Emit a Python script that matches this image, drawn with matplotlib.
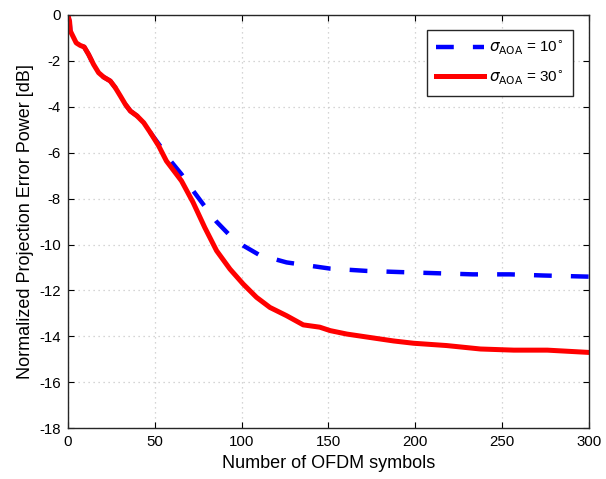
import numpy as np
import matplotlib as mpl
mpl.use('Agg')
import matplotlib.pyplot as plt

plt.rcParams['font.family'] = ['Liberation Sans', 'DejaVu Sans']
plt.rcParams['axes.unicode_minus'] = False

# values
x30 = [0, 1, 1.4, 2.9, 4.8, 7.1, 9.4, 11.9, 14.8, 17.7, 20.6, 24.4, 27.3,
       30.2, 33.1, 36, 39.8, 43.7, 47.5, 52.3, 56.7, 65.4, 72.1, 78.8, 85.6,
       93.3, 100.9, 108.6, 116.3, 125.9, 135.5, 145, 151, 160.6, 174, 187.5,
       199, 218, 237.5, 256.7, 276, 300]
y30 = [0, -0.3, -0.7, -0.93, -1.22, -1.33, -1.4, -1.72, -2.16, -2.52, -2.71,
       -2.88, -3.17, -3.53, -3.9, -4.19, -4.4, -4.7, -5.13, -5.71, -6.36,
       -7.23, -8.17, -9.26, -10.27, -11.07, -11.72, -12.3, -12.74, -13.1,
       -13.5, -13.6, -13.75, -13.9, -14.05, -14.2, -14.3, -14.4, -14.55,
       -14.6, -14.6, -14.7]
x10 = [0, 1, 1.4, 2.9, 4.8, 7.1, 9.4, 11.9, 14.8, 17.7, 20.6, 24.4, 27.3,
       30.2, 33.1, 36, 39.8, 43.7, 47.5, 53.8, 59, 65.4, 72, 78.4, 85.5,
       92.8, 101, 110.1, 125.9, 151, 172, 191, 212, 233, 254.6, 273.8, 300]
y10 = [0, -0.3, -0.7, -0.93, -1.22, -1.33, -1.4, -1.72, -2.16, -2.52, -2.71,
       -2.88, -3.17, -3.53, -3.9, -4.19, -4.4, -4.7, -5.13, -5.78, -6.35,
       -6.94, -7.65, -8.3, -9.0, -9.57, -10.05, -10.45, -10.78, -11.05,
       -11.15, -11.2, -11.25, -11.3, -11.3, -11.35, -11.4]

fig = plt.figure(figsize=(6.06, 4.79), dpi=100)
ax = fig.add_axes([0.112, 0.106, 0.86, 0.863])

ax.plot(x10, y10, color='#0000ff', lw=3.2, ls=(0, (4, 4.3)),
        dash_joinstyle='round',
        label=r'$\sigma_{\mathrm{AOA}}$ = 10$^{\circ}$')
ax.plot(x30, y30, color='#ff0000', lw=3.6, solid_joinstyle='round',
        label=r'$\sigma_{\mathrm{AOA}}$ = 30$^{\circ}$')

ax.set_xlim(0, 300)
ax.set_ylim(-18, 0)
ax.set_xticks(np.arange(0, 301, 50))
ax.set_yticks(np.arange(-18, 1, 2))
ax.tick_params(direction='in', top=True, right=True, labelsize=10.8,
               length=4, width=0.8, pad=5)
ax.grid(True, color='#c8c8c8', ls=(0, (1, 3)), lw=0.9)
for s in ax.spines.values():
    s.set_linewidth(1.0)
    s.set_color('#262626')

ax.set_xlabel('Number of OFDM symbols', fontsize=13)
ax.set_ylabel('Normalized Projection Error Power [dB]', fontsize=13)

leg = ax.legend(loc='upper right', fontsize=11, fancybox=False,
                framealpha=1, edgecolor='#262626', handlelength=3.1,
                handletextpad=0.35, labelspacing=0.75, borderpad=0.6,
                borderaxespad=0, bbox_to_anchor=(0.969, 0.964))
leg.get_frame().set_linewidth(1.0)

plt.savefig('out.png', dpi=100)
